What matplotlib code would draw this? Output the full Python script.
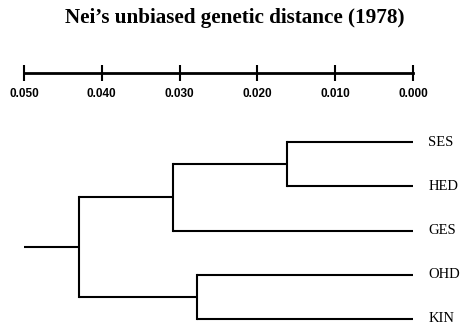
import matplotlib.pyplot as plt

# Dane: kolejnosc lisci i laczenia (jak linkage: indeks1, indeks2, odleglosc)
labels = ['SES', 'HED', 'GES', 'OHD', 'KIN']
merges = [(0, 1, 0.0162), (5, 2, 0.0308), (3, 4, 0.0278), (6, 7, 0.0429)]
root_len = 0.050
scale_ticks = [0.050, 0.040, 0.030, 0.020, 0.010, 0.000]

W, H = 462, 331
fig = plt.figure(figsize=(W / 100, H / 100), dpi=100)

x0, x1 = 24 / W, 413 / W

# Tytul
fig.text(0.509, 0.947, 'Nei\u2019s unbiased genetic distance (1978)',
         ha='center', va='center', fontsize=15.2, fontweight='bold',
         family='Liberation Serif')

# Os skali
ax_s = fig.add_axes([x0, 1 - 73 / H, x1 - x0, 0.01])
ax_s.set_xlim(0.050, 0.000)
for sp in ['top', 'left', 'right']:
    ax_s.spines[sp].set_visible(False)
ax_s.spines['bottom'].set_linewidth(2)
ax_s.set_yticks([])
ax_s.set_xticks(scale_ticks)
ax_s.set_xticklabels([f'{t:.3f}' for t in scale_ticks], fontsize=8.5,
                     fontweight='bold', family='Liberation Sans')
ax_s.tick_params(axis='x', direction='inout', length=12, width=1.5, pad=5)
ax_s.patch.set_visible(False)

# Dendrogram
top_px, bot_px = 142, 319
step = (bot_px - top_px) / 4
ylo, yhi = -0.2, 4.2
ax = fig.add_axes([x0, 1 - (bot_px + 0.2 * step) / H, x1 - x0, (4.4 * step) / H])
ax.set_xlim(0.050, 0.000)
ax.set_ylim(yhi, ylo)
ax.axis('off')

ypos = {i: float(i) for i in range(len(labels))}
hgt = {i: 0.0 for i in range(len(labels))}
lw = 1.5
for k, (a, b, d) in enumerate(merges):
    node = len(labels) + k
    for c in (a, b):
        ax.plot([hgt[c], d], [ypos[c], ypos[c]], color='black', lw=lw,
                solid_capstyle='butt', clip_on=False)
    ax.plot([d, d], [ypos[a], ypos[b]], color='black', lw=lw,
            solid_capstyle='projecting', clip_on=False)
    ypos[node] = (ypos[a] + ypos[b]) / 2
    hgt[node] = d

root = len(labels) + len(merges) - 1
ax.plot([hgt[root], root_len], [ypos[root], ypos[root]], color='black', lw=lw,
        solid_capstyle='butt', clip_on=False)

for i, lab in enumerate(labels):
    ax.annotate(lab, (0.0, ypos[i]), xytext=(11, 0), textcoords='offset points',
                ha='left', va='center', fontsize=10.5, family='Liberation Serif')

fig.savefig('out.png', dpi=100)
